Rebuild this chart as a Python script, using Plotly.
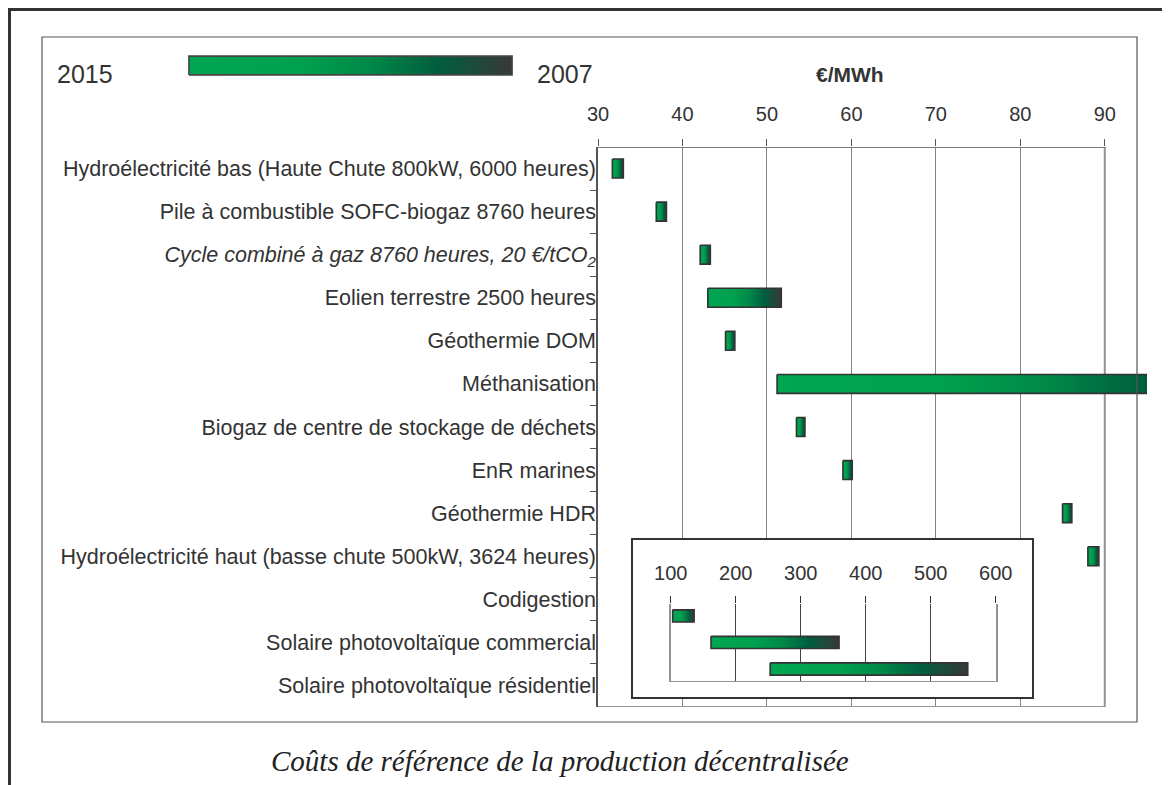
import plotly.graph_objects as go

# ---------------- data ----------------
categories = [
    "Hydroélectricité bas (Haute Chute 800kW, 6000 heures)",
    "Pile à combustible SOFC-biogaz 8760 heures",
    "<i>Cycle combiné à gaz 8760 heures, 20 €/tCO<sub>2</sub></i>",
    "Eolien terrestre 2500 heures",
    "Géothermie DOM",
    "Méthanisation",
    "Biogaz de centre de stockage de déchets",
    "EnR marines",
    "Géothermie HDR",
    "Hydroélectricité haut (basse chute 500kW, 3624 heures)",
    "Codigestion",
    "Solaire photovoltaïque commercial",
    "Solaire photovoltaïque résidentiel",
]
# main panel (€/MWh): 2015 cost (left end) -> 2007 cost (right end)
main_2015 = [31.7, 36.9, 42.1, 43.0, 45.1, 51.2, 53.5, 59.0, 85.0, 88.0]
main_2007 = [33.0, 38.1, 43.3, 51.7, 46.2, 108.0, 54.5, 60.1, 86.1, 89.3]
# inset panel (€/MWh) for the last three categories
inset_2015 = [103, 162, 253]
inset_2007 = [136, 359, 557]

main_ticks = [30, 40, 50, 60, 70, 80, 90]
inset_ticks = [100, 200, 300, 400, 500, 600]
legend_left, legend_right = "2015", "2007"
unit_label = "€/MWh"
caption = "Coûts de référence de la production décentralisée"

# ---------------- style ----------------
PAGE_W, PAGE_H = 1170, 785
OFF = 8                      # default body margin of the html page
W, H = PAGE_W - OFF, PAGE_H - OFF
FONT = "Liberation Sans, Arial, sans-serif"
TXT = "#333333"
GRAD = [[0, "#00a651"], [0.35, "#00a04e"], [0.55, "#008a48"],
        [0.77, "#005e3e"], [1, "#383838"]]


def px(x):
    """page x pixel -> paper fraction"""
    return (x - OFF) / W


def py(y):
    """page y pixel -> paper fraction"""
    return 1 - (y - OFF) / H


fig = go.Figure()

n_cat = len(categories)
n_main = len(main_2015)
half_main = 0.22
for i in range(n_main):
    s, e = main_2015[i], main_2007[i]
    fig.add_trace(go.Scatter(
        x=[s, e, e, s, s],
        y=[i - half_main, i - half_main, i + half_main, i + half_main, i - half_main],
        mode="lines", fill="toself",
        fillgradient=dict(type="horizontal", colorscale=GRAD),
        line=dict(color="#333333", width=1.6),
        xaxis="x", yaxis="y", hoverinfo="skip", showlegend=False))

# inset white box
fig.add_trace(go.Scatter(
    x=[0, 1, 1, 0, 0], y=[0, 0, 1, 1, 0], mode="lines", fill="toself",
    fillcolor="white", line=dict(width=0), xaxis="x2", yaxis="y2",
    hoverinfo="skip", showlegend=False))

half_inset = 0.23
for j in range(len(inset_2015)):
    s, e = inset_2015[j], inset_2007[j]
    fig.add_trace(go.Scatter(
        x=[s, e, e, s, s],
        y=[j - half_inset, j - half_inset, j + half_inset, j + half_inset, j - half_inset],
        mode="lines", fill="toself",
        fillgradient=dict(type="horizontal", colorscale=GRAD),
        line=dict(color="#333333", width=1.6),
        xaxis="x3", yaxis="y3", hoverinfo="skip", showlegend=False))

# legend gradient bar
fig.add_trace(go.Scatter(
    x=[0, 1, 1, 0, 0], y=[0, 0, 1, 1, 0], mode="lines", fill="toself",
    fillgradient=dict(type="horizontal", colorscale=GRAD),
    line=dict(color="#444444", width=1.6), xaxis="x4", yaxis="y4",
    hoverinfo="skip", showlegend=False))

hidden = dict(visible=False, fixedrange=True, automargin=False)
y_lo, y_hi = n_cat - 0.5, -0.5
inset_y_range = [2.49, -0.45]

fig.update_layout(
    width=W, height=H, autosize=False,
    margin=dict(l=0, r=0, t=0, b=0, pad=0, autoexpand=False),
    paper_bgcolor="white", plot_bgcolor="white",
    font=dict(family=FONT, color=TXT),
    xaxis=dict(
        domain=[px(598), px(1147)], range=[30, 95], side="top", anchor="y",
        tickmode="array", tickvals=main_ticks, ticks="outside", ticklen=7,
        tickcolor="#555555", tickwidth=1.2, showgrid=True, gridcolor="#858585",
        gridwidth=1.2, showline=False, zeroline=False, automargin=False,
        tickfont=dict(size=20, color=TXT), ticklabelstandoff=10, fixedrange=True),
    yaxis=dict(
        domain=[py(707), py(147)], range=[y_lo, y_hi], anchor="x",
        tickmode="array", tickvals=list(range(n_cat)), ticktext=categories,
        ticks="", showline=True, linecolor="#555555", linewidth=1.5,
        showgrid=False, zeroline=False, automargin=False,
        tickfont=dict(size=21.5, color=TXT),
        ticklabelstandoff=-4, fixedrange=True,
        minor=dict(tickmode="array",
                   tickvals=[k + 0.5 for k in range(n_cat - 1)],
                   ticks="outside", ticklen=6, tickcolor="#555555",
                   tickwidth=1.2, showgrid=False)),
    xaxis2=dict(domain=[px(633), px(1032)], range=[0, 1], anchor="y2",
                showline=True, mirror=True, linecolor="#333333", linewidth=1.5,
                showticklabels=False, ticks="", showgrid=False, zeroline=False,
                automargin=False, fixedrange=True),
    yaxis2=dict(domain=[py(697), py(540)], range=[0, 1], anchor="x2",
                showline=True, mirror=True, linecolor="#333333", linewidth=1.5,
                showticklabels=False, ticks="", showgrid=False, zeroline=False,
                automargin=False, fixedrange=True),
    xaxis3=dict(domain=[px(670.7), px(995.7)], range=[100, 600], side="top",
                anchor="y3", tickmode="array", tickvals=inset_ticks,
                ticks="outside", ticklen=7, tickcolor="#333333", tickwidth=1.2,
                showgrid=True, gridcolor="#444444", gridwidth=1.2,
                showline=False, zeroline=False, automargin=False,
                tickfont=dict(size=20, color=TXT), ticklabelstandoff=8,
                fixedrange=True),
    yaxis3=dict(domain=[py(682), py(604)], range=inset_y_range, anchor="x3",
                showline=True, mirror=True, linecolor="#9b8f8f", linewidth=2,
                showticklabels=False, ticks="", showgrid=False, zeroline=False,
                automargin=False, fixedrange=True),
    xaxis4=dict(domain=[px(187), px(514)], range=[-0.006, 1.006], anchor="y4", **hidden),
    yaxis4=dict(domain=[py(76), py(55)], range=[-0.06, 1.06], anchor="x4", **hidden),
)

shapes = [
    # main plot frame pieces (data coordinates of the main axes)
    dict(type="line", xref="x", yref="y", x0=30, x1=90, y0=y_hi, y1=y_hi,
         line=dict(color="#555555", width=1.5), layer="above"),
    dict(type="line", xref="x", yref="y", x0=30, x1=90, y0=y_lo, y1=y_lo,
         line=dict(color="#9b8f8f", width=2), layer="above"),
    dict(type="line", xref="x", yref="y", x0=90, x1=90, y0=y_lo, y1=y_hi,
         line=dict(color="#9b8f8f", width=2), layer="between"),
    # inset bottom line
    dict(type="line", xref="x3", yref="y3", x0=100, x1=600,
         y0=inset_y_range[0], y1=inset_y_range[0],
         line=dict(color="#9b8f8f", width=2), layer="above"),
    # inner chart frame
    dict(type="rect", xref="paper", yref="paper", x0=px(42), x1=px(1137),
         y0=py(722), y1=py(37), line=dict(color="#555555", width=1.2),
         fillcolor="rgba(0,0,0,0)", layer="above"),
    # outer page frame (top & left)
    dict(type="line", xref="paper", yref="paper", x0=px(8), x1=1,
         y0=py(9.5), y1=py(9.5),
         line=dict(color="#333333", width=3), layer="above"),
    dict(type="line", xref="paper", yref="paper", x0=px(9.5), x1=px(9.5),
         y0=0, y1=py(8),
         line=dict(color="#333333", width=3), layer="above"),
]
fig.update_layout(shapes=shapes)

annotations = [
    dict(text=legend_left, x=px(55), y=py(74), xref="paper", yref="paper",
         xanchor="left", yanchor="middle", showarrow=False,
         font=dict(size=25, color=TXT, family=FONT)),
    dict(text=legend_right, x=px(535), y=py(74), xref="paper", yref="paper",
         xanchor="left", yanchor="middle", showarrow=False,
         font=dict(size=25, color=TXT, family=FONT)),
    dict(text="<b>" + unit_label + "</b>", x=px(850), y=py(74), xref="paper",
         yref="paper", xanchor="center", yanchor="middle", showarrow=False,
         font=dict(size=21, color=TXT, family=FONT)),
    dict(text="<i>" + caption + "</i>", x=px(560), y=py(761), xref="paper",
         yref="paper", xanchor="center", yanchor="middle", showarrow=False,
         font=dict(size=29, color="#222222",
                   family="Liberation Serif, Times New Roman, serif")),
]
fig.update_layout(annotations=annotations)

fig.write_html("out.html", config={"displayModeBar": False})
